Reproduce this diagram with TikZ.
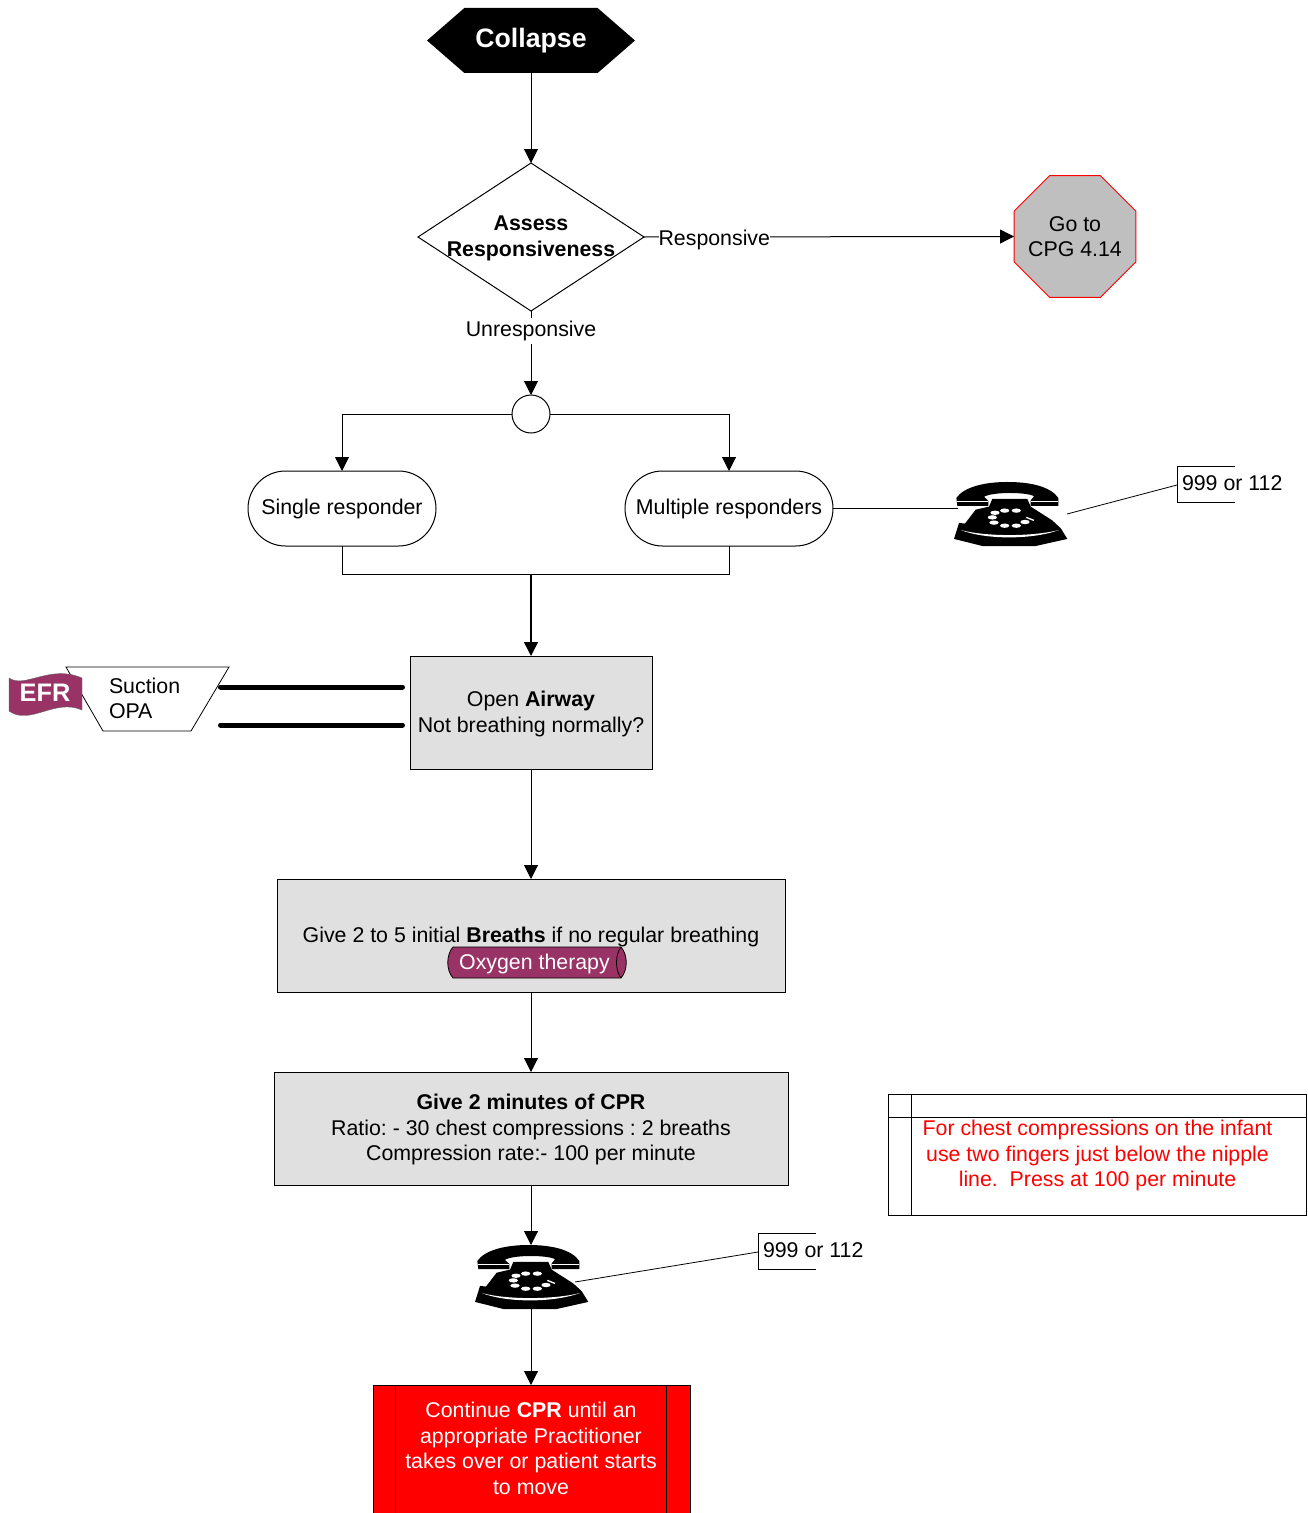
\documentclass[tikz,border=0pt]{standalone}
\usepackage{fontspec}
\setmainfont{Liberation Sans}
\usetikzlibrary{arrows.meta,shapes.geometric,shapes.misc,shapes.symbols}
\definecolor{boxgray}{HTML}{E0E0E0}
\definecolor{plum}{HTML}{993366}
\newcommand{\telephone}[2]{%
  \begin{scope}[shift={(#1,#2+3.83)},x=.25pt,y=-.2308pt]
    \fill[black] (52,72) .. controls (75,35) and (140,20) .. (205,20) .. controls (275,20) and (335,35) .. (358,72) -- (358,98) -- (275,98) -- (275,80) -- (285,66) .. controls (260,52) and (160,52) .. (135,68) -- (148,82) -- (148,98) -- (55,98) -- cycle;
    \draw[white,line width=.8pt] (55,84) -- (146,84) (276,84) -- (358,84);
    \fill[black] (160,75) -- (265,75) -- (275,100) -- (340,145) -- (365,170) -- (385,205) -- (290,228) -- (130,228) -- (45,205) -- (60,153) -- (78,155) -- (110,110) -- (150,100) -- cycle;
    \fill[white] (65,176) .. controls (140,198) and (280,198) .. (360,176) .. controls (280,208) and (140,208) .. (65,176) -- cycle;
    \foreach \dx/\dy in {168/120,197/113,232/113,160/135,165/152,197/162,232/162,258/150}
      \fill[white] (\dx,\dy) ellipse [x radius=14,y radius=7];
    \draw[white,line width=1pt] (262,135) -- (285,145);
  \end{scope}}
\tikzset{
  x=.75pt,y=-.75pt,
  every node/.style={font=\fontsize{16}{19.2}\selectfont,inner sep=0pt,outer sep=0pt},
  flow/.style={draw=black,line width=.75pt,-{Triangle[length=10.5pt,width=10.5pt]}},
  plain/.style={draw=black,line width=.75pt},
  graybox/.style={rectangle,draw=black,line width=.6pt,fill=boxgray,align=center,minimum height=84.75pt},
  term/.style={rounded rectangle,draw=black,line width=.75pt,fill=white,minimum height=56.25pt},
  thick line/.style={draw=black,line width=3.75pt,line cap=round},
  txt/.style={align=center},
  ltxt/.style={align=left,anchor=west}
}
\begin{document}
\frenchspacing
\begin{tikzpicture}
\useasboundingbox (0,0) rectangle (1307,1513);
% Collapse
\node[signal,signal to=west and east,signal pointer angle=82,fill=black,text=white,font=\fontsize{20}{24}\selectfont\bfseries,minimum width=156pt,minimum height=48.75pt] (collapse) at (531,40.5) {\raisebox{-1.5pt}{Collapse}};
% Decision
\node[diamond,draw=black,line width=.75pt,aspect=1.527,minimum width=169.5pt,minimum height=111pt] (assess) at (531,237) {};
\node[txt,font=\fontsize{16}{19.4}\selectfont\bfseries] (assesstext) at (531,238) {Assess\\Responsiveness};
% Octagon
\node[regular polygon,regular polygon sides=8,draw=red,line width=.75pt,fill=black!25,minimum size=99pt] (cpg) at (1075,236.5) {};
\node[txt] (cpgtext) at (1075,236.5) {Go to\\CPG 4.14};
% Junction
\node[circle,draw=black,line width=.75pt,fill=white,minimum size=28.5pt] (junction) at (531,414) {};
% Responders
\node[term,minimum width=141pt] (single) at (342,508.5) {\raisebox{-1.5pt}{Single responder}};
\node[term,minimum width=156pt] (multi) at (729,508.5) {\raisebox{-1.5pt}{Multiple responders}};
\coordinate (merge) at (531,574.5);
% Phones
\telephone{939}{472}
\coordinate (phoneAin) at (958,508.5);
\coordinate (phoneAout) at (1067,514);
\telephone{460}{1235}
\coordinate (phoneBtop) at (531,1245);
\coordinate (phoneBbot) at (531,1309);
\coordinate (phoneBout) at (575,1282);
% Tag 1
\draw[plain,line width=.6pt] (1235,466) -- (1177,466) -- (1177,502) -- (1235,502);
\coordinate (tagA) at (1177,485);
\node[ltxt] (tagAtext) at (1182,483) {999 or 112};
% Tag 2
\draw[plain,line width=.6pt] (816,1233) -- (758,1233) -- (758,1269) -- (816,1269);
\coordinate (tagB) at (758,1252);
\node[ltxt] (tagBtext) at (763,1250) {999 or 112};
% Boxes
\node[graybox,minimum width=181.5pt] (airway) at (531,712.5) {};
\node[txt] (airwaytext) at (531,714) {Open \textbf{Airway}\\Not breathing normally?};
\node[graybox,minimum width=381pt] (breaths) at (531,935.5) {};
\node[txt] (breathstext) at (531,936.5) {Give 2 to 5 initial \textbf{Breaths} if no regular breathing};
\node[graybox,minimum width=385.5pt] (cpr) at (531,1128.5) {};
\node[txt] (cprtext) at (531,1129.5) {\textbf{Give 2 minutes of CPR}\\Ratio: - 30 chest compressions : 2 breaths\\Compression rate:- 100 per minute};
% Oxygen cylinder
\filldraw[fill=plum,draw=black,line width=.6pt] (453,947) -- (621,947) .. controls (628,955) and (628,970) .. (621,978) -- (453,978) .. controls (446,970) and (446,955) .. (453,947) -- cycle;
\draw[black,line width=.6pt] (621,947) .. controls (615,955) and (615,970) .. (621,978);
\node[text=white] (oxygen) at (534.5,963.7) {Oxygen therapy};
% EFR / suction
\filldraw[fill=white,draw=black,line width=.6pt] (66,667) -- (229,667) -- (191,731) -- (103,731) -- cycle;
\filldraw[fill=plum,draw=black!60,line width=.3pt] (9,678) .. controls (25,689) and (50,664) .. (82,678) -- (82,710) .. controls (55,698) and (30,726) .. (9,711) -- cycle;
\node[text=white,font=\fontsize{19}{23}\selectfont\bfseries] (efr) at (45,693) {EFR};
\node[align=left,anchor=west] (suction) at (109,698.5) {Suction\\OPA};
\coordinate (suctA) at (220.5,687);
\coordinate (suctB) at (220.5,725);
\coordinate (airA) at (402.5,687);
\coordinate (airB) at (402.5,725);
% Note
\draw[plain,line width=.6pt] (888,1094) rectangle (1306.6,1215);
\draw[plain,line width=.6pt] (888,1117) -- (1306.6,1117) (911,1094) -- (911,1215);
\node[txt,text=red] (note) at (1097.5,1155.5) {For chest compressions on the infant\\use two fingers just below the nipple\\line.\ \ Press at 100 per minute};
% Red box
\filldraw[fill=red,draw=black,line width=.75pt] (373,1513.5) -- (373,1385) -- (690,1385) -- (690,1513.5);
\draw[plain] (395,1385) -- (395,1513.5) (666,1385) -- (666,1513.5);
\coordinate (redtop) at (531,1385);
\node[txt,text=white] (continue) at (531,1448.5) {Continue \textbf{CPR} until an\\appropriate Practitioner\\takes over or patient starts\\to move};
% Connectors
\draw[flow] (collapse.south) -- (assess.north);
\draw[flow] (assess.east) -- node[pos=.19,fill=white,yshift=-2pt] (resp) {Responsive} (cpg.west);
\draw[flow] (assess.south) -- node[pos=.214,fill=white,inner ysep=2pt,yshift=-1.5pt] (unresp) {Unresponsive} (junction.north);
\draw[flow] (junction.west) -| (single.north);
\draw[flow] (junction.east) -| (multi.north);
\draw[plain] (single.south) |- (merge);
\draw[plain] (multi.south) |- (merge);
\draw[flow,line width=1.1pt] (merge) -- (airway.north);
\draw[plain] (multi.east) -- (phoneAin);
\draw[plain,line width=.6pt] (phoneAout) -- (tagA);
\draw[thick line] (suctA) -- (airA);
\draw[thick line] (suctB) -- (airB);
\draw[flow] (airway.south) -- (breaths.north);
\draw[flow] (breaths.south) -- (cpr.north);
\draw[flow] (cpr.south) -- (phoneBtop);
\draw[flow] (phoneBbot) -- (redtop);
\draw[plain,line width=.6pt] (phoneBout) -- (tagB);
\end{tikzpicture}
\end{document}
